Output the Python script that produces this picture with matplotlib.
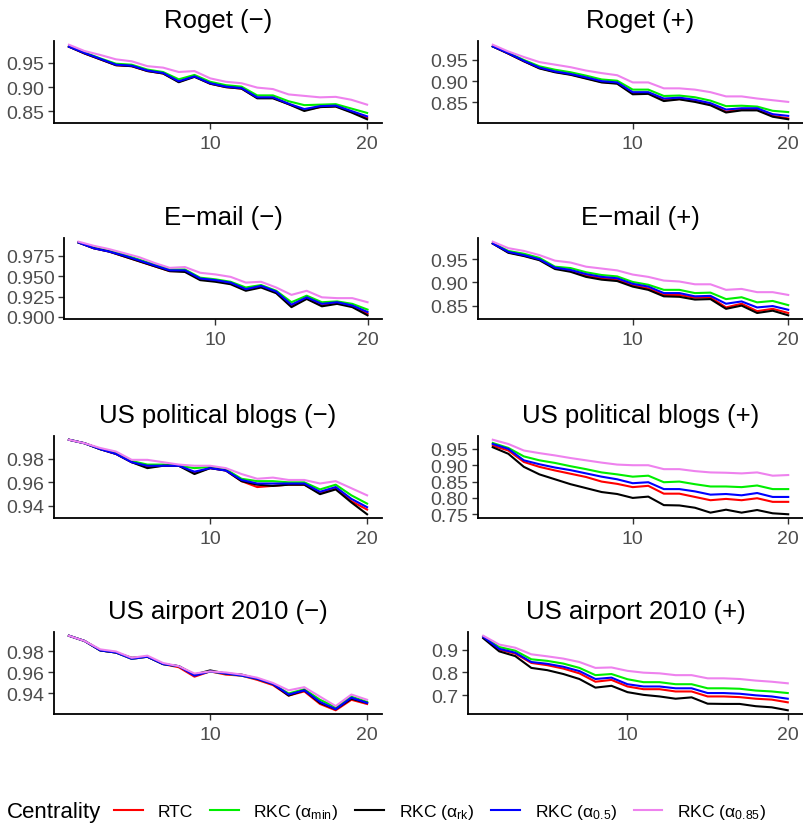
import matplotlib
matplotlib.use("Agg")
import matplotlib.pyplot as plt
from matplotlib.lines import Line2D
import numpy as np

plt.rcParams['font.family'] = ['Liberation Sans', 'DejaVu Sans']
plt.rcParams['mathtext.fontset'] = 'custom'
plt.rcParams['mathtext.rm'] = 'Liberation Sans'
plt.rcParams['mathtext.it'] = 'Liberation Sans:italic'
plt.rcParams['mathtext.sf'] = 'Liberation Sans'

k = list(range(1, 21))

series_names = ["RTC", "RKC (\u03b1$_{\\mathrm{min}}$)", "RKC (\u03b1$_{\\mathrm{rk}}$)",
                "RKC (\u03b1$_{\\mathrm{0.5}}$)", "RKC (\u03b1$_{\\mathrm{0.85}}$)"]
series_colors = ["#FF0000", "#00EE00", "#000000", "#0000FF", "#EE82EE"]

titles = ["Roget (\u2212)", "Roget (+)", "E\u2212mail (\u2212)", "E\u2212mail (+)",
          "US political blogs (\u2212)", "US political blogs (+)",
          "US airport 2010 (\u2212)", "US airport 2010 (+)"]

# order in each: RTC, alpha_min, alpha_rk, alpha_0.5, alpha_0.85
roget_minus_rtc  = [0.983,0.969,0.957,0.945,0.943,0.933,0.928,0.911,0.922,0.907,0.900,0.897,0.878,0.878,0.865,0.853,0.859,0.861,0.849,0.837]
roget_minus_min  = [0.984,0.971,0.959,0.948,0.946,0.936,0.931,0.916,0.925,0.911,0.904,0.901,0.883,0.883,0.871,0.863,0.864,0.865,0.856,0.847]
roget_minus_rk   = [0.983,0.969,0.957,0.945,0.943,0.933,0.928,0.910,0.921,0.907,0.900,0.897,0.877,0.877,0.865,0.851,0.859,0.860,0.848,0.834]
roget_minus_05   = [0.983,0.970,0.958,0.946,0.944,0.934,0.929,0.912,0.922,0.908,0.901,0.898,0.879,0.879,0.866,0.855,0.861,0.862,0.851,0.840]
roget_minus_085  = [0.987,0.974,0.966,0.957,0.953,0.943,0.940,0.931,0.933,0.918,0.911,0.908,0.899,0.896,0.885,0.882,0.879,0.880,0.874,0.864]

roget_plus_rtc   = [0.982,0.965,0.947,0.931,0.922,0.916,0.907,0.898,0.895,0.871,0.872,0.855,0.858,0.853,0.845,0.828,0.833,0.833,0.818,0.812]
roget_plus_min   = [0.982,0.967,0.950,0.935,0.927,0.921,0.913,0.904,0.901,0.880,0.880,0.865,0.866,0.862,0.854,0.841,0.842,0.840,0.830,0.827]
roget_plus_rk    = [0.982,0.965,0.947,0.930,0.921,0.915,0.906,0.897,0.894,0.869,0.870,0.853,0.857,0.851,0.843,0.826,0.831,0.831,0.816,0.810]
roget_plus_05    = [0.982,0.966,0.948,0.932,0.923,0.917,0.909,0.900,0.897,0.874,0.874,0.859,0.861,0.856,0.848,0.833,0.836,0.836,0.822,0.818]
roget_plus_085   = [0.986,0.970,0.957,0.945,0.939,0.933,0.925,0.919,0.914,0.897,0.897,0.883,0.883,0.880,0.874,0.864,0.864,0.859,0.855,0.851]

email_minus_rtc  = [0.991,0.984,0.980,0.974,0.968,0.962,0.956,0.956,0.946,0.944,0.941,0.933,0.937,0.930,0.913,0.923,0.914,0.917,0.913,0.904]
email_minus_min  = [0.991,0.985,0.981,0.976,0.970,0.964,0.958,0.958,0.948,0.946,0.943,0.936,0.939,0.932,0.918,0.926,0.918,0.919,0.916,0.909]
email_minus_rk   = [0.991,0.984,0.980,0.974,0.968,0.962,0.956,0.955,0.945,0.943,0.940,0.932,0.936,0.929,0.912,0.922,0.913,0.916,0.912,0.902]
email_minus_05   = [0.991,0.984,0.980,0.975,0.969,0.963,0.957,0.957,0.947,0.945,0.942,0.934,0.938,0.931,0.915,0.924,0.916,0.918,0.914,0.906]
email_minus_085  = [0.992,0.987,0.983,0.978,0.973,0.966,0.960,0.961,0.954,0.952,0.949,0.942,0.943,0.936,0.927,0.932,0.924,0.923,0.923,0.918]

email_plus_rtc   = [0.984,0.965,0.958,0.949,0.931,0.925,0.915,0.909,0.906,0.894,0.887,0.873,0.873,0.867,0.868,0.846,0.854,0.838,0.843,0.834]
email_plus_min   = [0.985,0.968,0.962,0.953,0.934,0.931,0.922,0.916,0.913,0.901,0.895,0.884,0.884,0.877,0.878,0.864,0.868,0.857,0.860,0.851]
email_plus_rk    = [0.984,0.964,0.957,0.948,0.929,0.923,0.912,0.906,0.903,0.891,0.884,0.870,0.869,0.863,0.864,0.843,0.850,0.834,0.839,0.829]
email_plus_05    = [0.984,0.966,0.959,0.950,0.932,0.927,0.918,0.912,0.909,0.897,0.891,0.877,0.877,0.870,0.871,0.854,0.859,0.846,0.849,0.841]
email_plus_085   = [0.988,0.974,0.968,0.959,0.947,0.943,0.934,0.930,0.926,0.917,0.912,0.904,0.902,0.896,0.896,0.884,0.886,0.879,0.879,0.873]

blogs_minus_rtc  = [0.996,0.993,0.988,0.984,0.977,0.973,0.974,0.974,0.968,0.972,0.970,0.961,0.956,0.957,0.958,0.958,0.951,0.955,0.944,0.937]
blogs_minus_min  = [0.996,0.993,0.988,0.985,0.978,0.975,0.975,0.974,0.972,0.973,0.971,0.963,0.961,0.961,0.960,0.960,0.954,0.958,0.949,0.942]
blogs_minus_rk   = [0.996,0.993,0.988,0.984,0.977,0.972,0.974,0.974,0.967,0.972,0.970,0.961,0.958,0.957,0.958,0.958,0.950,0.954,0.943,0.933]
blogs_minus_05   = [0.996,0.993,0.988,0.984,0.977,0.974,0.974,0.974,0.969,0.972,0.970,0.962,0.959,0.959,0.959,0.959,0.952,0.956,0.946,0.939]
blogs_minus_085  = [0.996,0.993,0.989,0.986,0.979,0.979,0.977,0.975,0.974,0.974,0.972,0.967,0.963,0.964,0.962,0.962,0.959,0.961,0.955,0.949]

blogs_plus_rtc   = [0.960,0.945,0.910,0.895,0.884,0.874,0.864,0.850,0.843,0.833,0.837,0.813,0.813,0.803,0.793,0.797,0.793,0.799,0.788,0.788]
blogs_plus_min   = [0.968,0.953,0.927,0.915,0.907,0.897,0.888,0.878,0.872,0.865,0.868,0.848,0.850,0.842,0.835,0.835,0.833,0.838,0.827,0.827]
blogs_plus_rk    = [0.955,0.935,0.895,0.872,0.857,0.842,0.830,0.818,0.812,0.800,0.804,0.778,0.777,0.770,0.755,0.764,0.755,0.763,0.753,0.750]
blogs_plus_05    = [0.965,0.950,0.915,0.903,0.893,0.885,0.875,0.865,0.857,0.845,0.848,0.827,0.827,0.820,0.810,0.812,0.808,0.815,0.803,0.803]
blogs_plus_085   = [0.978,0.965,0.945,0.937,0.930,0.922,0.915,0.908,0.902,0.900,0.900,0.888,0.888,0.882,0.878,0.877,0.875,0.878,0.868,0.870]

air_minus_rtc    = [0.995,0.990,0.981,0.979,0.973,0.975,0.968,0.965,0.956,0.961,0.958,0.957,0.953,0.948,0.938,0.942,0.930,0.924,0.934,0.930]
air_minus_min    = [0.995,0.990,0.981,0.979,0.973,0.975,0.968,0.966,0.958,0.961,0.959,0.957,0.954,0.949,0.940,0.944,0.934,0.927,0.937,0.932]
air_minus_rk     = [0.995,0.990,0.981,0.979,0.974,0.975,0.968,0.966,0.958,0.962,0.959,0.958,0.954,0.949,0.938,0.943,0.931,0.925,0.935,0.931]
air_minus_05     = [0.995,0.990,0.981,0.979,0.973,0.975,0.968,0.966,0.957,0.961,0.959,0.957,0.954,0.949,0.939,0.943,0.932,0.925,0.936,0.931]
air_minus_085    = [0.995,0.990,0.982,0.980,0.974,0.976,0.969,0.966,0.959,0.961,0.960,0.958,0.955,0.950,0.943,0.946,0.937,0.928,0.939,0.934]

air_plus_rtc     = [0.957,0.901,0.883,0.842,0.832,0.817,0.796,0.759,0.767,0.738,0.726,0.726,0.716,0.716,0.694,0.694,0.691,0.684,0.680,0.668]
air_plus_min     = [0.959,0.912,0.896,0.858,0.851,0.839,0.820,0.788,0.793,0.770,0.757,0.757,0.748,0.748,0.730,0.730,0.728,0.720,0.716,0.709]
air_plus_rk      = [0.951,0.893,0.872,0.820,0.810,0.793,0.771,0.733,0.741,0.713,0.701,0.694,0.684,0.690,0.662,0.661,0.661,0.651,0.646,0.633]
air_plus_05      = [0.957,0.904,0.887,0.846,0.838,0.825,0.806,0.771,0.777,0.748,0.738,0.738,0.730,0.730,0.709,0.709,0.706,0.699,0.694,0.684]
air_plus_085     = [0.962,0.923,0.909,0.880,0.871,0.861,0.846,0.820,0.822,0.807,0.799,0.796,0.788,0.788,0.774,0.774,0.771,0.764,0.759,0.752]

panel_data = [
    [roget_minus_rtc, roget_minus_min, roget_minus_rk, roget_minus_05, roget_minus_085],
    [roget_plus_rtc, roget_plus_min, roget_plus_rk, roget_plus_05, roget_plus_085],
    [email_minus_rtc, email_minus_min, email_minus_rk, email_minus_05, email_minus_085],
    [email_plus_rtc, email_plus_min, email_plus_rk, email_plus_05, email_plus_085],
    [blogs_minus_rtc, blogs_minus_min, blogs_minus_rk, blogs_minus_05, blogs_minus_085],
    [blogs_plus_rtc, blogs_plus_min, blogs_plus_rk, blogs_plus_05, blogs_plus_085],
    [air_minus_rtc, air_minus_min, air_minus_rk, air_minus_05, air_minus_085],
    [air_plus_rtc, air_plus_min, air_plus_rk, air_plus_05, air_plus_085],
]

yticks = [
    [0.85, 0.90, 0.95], [0.85, 0.90, 0.95],
    [0.900, 0.925, 0.950, 0.975], [0.85, 0.90, 0.95],
    [0.94, 0.96, 0.98], [0.75, 0.80, 0.85, 0.90, 0.95],
    [0.94, 0.96, 0.98], [0.7, 0.8, 0.9],
]
ytick_labels = [
    ["0.85", "0.90", "0.95"], ["0.85", "0.90", "0.95"],
    ["0.900", "0.925", "0.950", "0.975"], ["0.85", "0.90", "0.95"],
    ["0.94", "0.96", "0.98"], ["0.75", "0.80", "0.85", "0.90", "0.95"],
    ["0.94", "0.96", "0.98"], ["0.7", "0.8", "0.9"],
]
xticks = [10, 20]
xtick_labels = ["10", "20"]

W, H = 804, 829
fig = plt.figure(figsize=(W / 100, H / 100), dpi=100)

# pixel boxes (left, right, top, bottom)
lefts = [54, 478, 64, 478, 54, 478, 54, 468]
rights = [382, 803] * 4
tops = [42, 42, 239, 239, 437, 437, 633, 633]
bottoms = [124, 124, 320, 320, 519, 519, 715, 715]

for i in range(8):
    L, R, T, B = lefts[i], rights[i], tops[i], bottoms[i]
    ax = fig.add_axes([L / W, 1 - B / H, (R - L) / W, (B - T) / H])
    for vals, col in zip(panel_data[i], series_colors):
        ax.plot(k, vals, color=col, lw=1.5, solid_joinstyle='round')
    ax.margins(x=0.05, y=0.05)
    ax.set_xticks(xticks)
    ax.set_xticklabels(xtick_labels)
    ax.set_yticks(yticks[i])
    ax.set_yticklabels(ytick_labels[i])
    for s in ['top', 'right']:
        ax.spines[s].set_visible(False)
    for s in ['left', 'bottom']:
        ax.spines[s].set_linewidth(1.3)
        ax.spines[s].set_color('black')
    ax.tick_params(axis='both', length=4.3, width=1.0, color='#333333',
                   labelcolor='#4D4D4D', labelsize=14, pad=2.5)
    ax.tick_params(axis='x', pad=4.0)
    ax.set_title(titles[i], fontsize=18.5, color='black', pad=10)
    ax.set_facecolor('white')

# Legend
fig.text(7 / W, 1 - 813 / H, "Centrality", fontsize=16, va='center', ha='left')
handles = [Line2D([0], [0], color=c, lw=1.5) for c in series_colors]
fig.legend(handles, series_names, loc='center left',
           bbox_to_anchor=(114 / W, 1 - 813 / H), ncol=5, frameon=False,
           fontsize=12.6, handlelength=1.65, handletextpad=0.85,
           columnspacing=0.95, borderpad=0, borderaxespad=0)

fig.savefig("out.png", dpi=100, facecolor='white')
